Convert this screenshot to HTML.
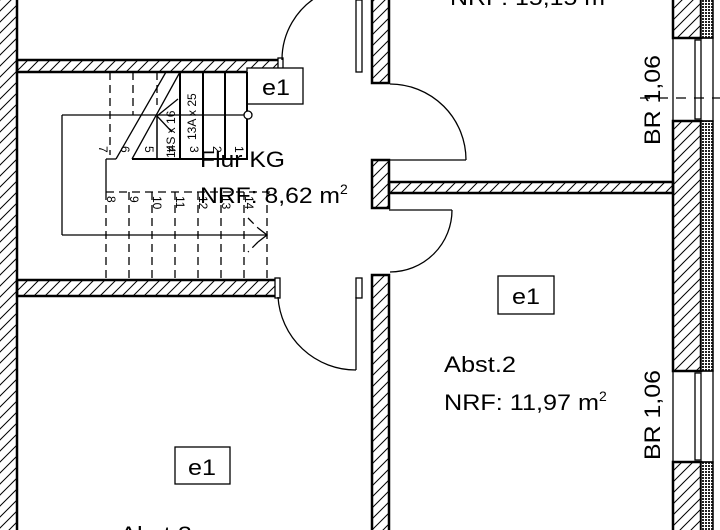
<!DOCTYPE html>
<html><head><meta charset="utf-8"><style>
html,body{margin:0;padding:0;background:#fff;}
svg{display:block;font-family:"Liberation Sans",sans-serif;}
</style></head><body>
<svg width="720" height="530" viewBox="0 0 720 530" xmlns="http://www.w3.org/2000/svg">
<defs>
<pattern id="h" width="11" height="11" patternUnits="userSpaceOnUse">
<path d="M-1,12 L12,-1 M-6,6 L6,-6 M5,17 L17,5" stroke="#000" stroke-width="1"/>
</pattern>
<pattern id="x" width="3" height="3" patternUnits="userSpaceOnUse">
<rect width="3" height="3" fill="#fff"/><rect width="2" height="2" fill="#222"/>
</pattern>
</defs>
<g stroke="#000" stroke-width="2.5" fill="url(#h)">
<rect x="-2" y="-2" width="19" height="540"/>
<rect x="17" y="60" width="263" height="12"/>
<rect x="17" y="280" width="260" height="16"/>
<rect x="372" y="-2" width="17" height="85"/>
<rect x="372" y="160" width="17" height="48"/>
<rect x="389" y="182" width="284" height="11"/>
<rect x="372" y="275" width="17" height="260"/>
<rect x="673" y="-2" width="28" height="40"/>
<rect x="673" y="121" width="28" height="250"/>
<rect x="673" y="462" width="28" height="70"/>
</g>
<g stroke="#000" stroke-width="1.5" fill="url(#x)">
<rect x="701" y="-2" width="12" height="40"/>
<rect x="701" y="121" width="12" height="250"/>
<rect x="701" y="462" width="12" height="70"/>
</g>
<g stroke="#000" stroke-width="1.3" fill="none">
<rect x="673" y="38" width="40" height="83"/>
<rect x="695" y="40" width="6" height="79"/>
<rect x="673" y="371" width="40" height="91"/>
<rect x="695" y="373" width="6" height="87"/>
<line x1="640" y1="98" x2="720" y2="98" stroke-dasharray="10,8"/>
<rect x="278" y="58" width="5" height="14" fill="#fff"/>
<rect x="356" y="0" width="6" height="72" fill="#fff"/>
<rect x="275" y="278" width="5" height="20" fill="#fff"/>
<rect x="356" y="278" width="6" height="20" fill="#fff"/>
<line x1="356" y1="297" x2="356" y2="370"/>
<line x1="389" y1="160" x2="466" y2="160"/>
<line x1="389" y1="210" x2="452" y2="210"/>
<path d="M282,60 A74,74 0 0 1 320,-5"/>
<path d="M390,84 A76,76 0 0 1 466,160"/>
<path d="M452,210 A62,62 0 0 1 390,272"/>
<path d="M278,297 A78,78 0 0 0 356,370"/>
<rect x="247" y="68" width="56" height="36" fill="#fff"/>
<rect x="498" y="276" width="56" height="38"/>
<rect x="175" y="447" width="55" height="37"/>
<line x1="166" y1="72" x2="116" y2="159"/>
<line x1="180" y1="72" x2="132" y2="159"/>
<line x1="106" y1="159" x2="116" y2="159"/>
<line x1="132" y1="159" x2="248" y2="159" stroke-width="2"/>
<line x1="180" y1="72" x2="180" y2="159" stroke-width="2"/>
<line x1="203" y1="72" x2="203" y2="159" stroke-width="2"/>
<line x1="225" y1="72" x2="225" y2="159" stroke-width="2"/>
<line x1="247" y1="72" x2="247" y2="159" stroke-width="2"/>
<line x1="157" y1="116" x2="157" y2="159" stroke-width="1.5"/>
<line x1="157" y1="116" x2="178" y2="99"/>
<line x1="157" y1="116" x2="172" y2="132"/>
<line x1="62" y1="115" x2="244" y2="115"/>
<circle cx="248" cy="115" r="4" fill="#fff"/>
<line x1="62" y1="115" x2="62" y2="235"/>
<line x1="62" y1="235" x2="267" y2="235"/>
<path d="M258,228 L267,235 L258,242"/>
<line x1="106" y1="159" x2="106" y2="192"/>
<g stroke-dasharray="8,5">
<line x1="110" y1="72" x2="110" y2="155"/>
<line x1="133" y1="72" x2="133" y2="115"/>
<line x1="157" y1="72" x2="157" y2="105"/>
<line x1="106" y1="192" x2="270" y2="192"/>
<line x1="106" y1="192" x2="106" y2="279"/>
<line x1="129" y1="192" x2="129" y2="279"/>
<line x1="152" y1="192" x2="152" y2="279"/>
<line x1="175" y1="192" x2="175" y2="279"/>
<line x1="198" y1="192" x2="198" y2="279"/>
<line x1="221" y1="192" x2="221" y2="279"/>
<line x1="244" y1="192" x2="244" y2="279"/>
<line x1="267" y1="192" x2="267" y2="279"/>
<line x1="248" y1="218" x2="258" y2="228"/>
<line x1="258" y1="242" x2="248" y2="252"/>
</g>
</g>
<g font-size="12" fill="#000">
<text transform="translate(99,146) rotate(90)">7</text>
<text transform="translate(121,146) rotate(90)">6</text>
<text transform="translate(145,146) rotate(90)">5</text>
<text transform="translate(167,146) rotate(90)">4</text>
<text transform="translate(190,146) rotate(90)">3</text>
<text transform="translate(213,146) rotate(90)">2</text>
<text transform="translate(235,146) rotate(90)">1</text>
<text transform="translate(107,196) rotate(90)">8</text>
<text transform="translate(130,196) rotate(90)">9</text>
<text transform="translate(153,196) rotate(90)">10</text>
<text transform="translate(176,196) rotate(90)">11</text>
<text transform="translate(199,196) rotate(90)">12</text>
<text transform="translate(222,196) rotate(90)">13</text>
<text transform="translate(245,196) rotate(90)">14</text>
<text transform="translate(175,158) rotate(-90)">14S x 16</text>
<text transform="translate(196,140) rotate(-90)">13A x 25</text>
</g>
<g font-size="22" fill="#000">
<text x="262" y="95" textLength="28" lengthAdjust="spacingAndGlyphs">e1</text>
<text x="512" y="304" textLength="28" lengthAdjust="spacingAndGlyphs">e1</text>
<text x="188" y="475" textLength="28" lengthAdjust="spacingAndGlyphs">e1</text>
<text x="200" y="167" textLength="85" lengthAdjust="spacingAndGlyphs">Flur KG</text>
<text x="200" y="203"><tspan textLength="140" lengthAdjust="spacingAndGlyphs">NRF: 8,62 m</tspan><tspan font-size="14" dy="-9">2</tspan></text>
<text x="444" y="372" textLength="72" lengthAdjust="spacingAndGlyphs">Abst.2</text>
<text x="444" y="410"><tspan textLength="155" lengthAdjust="spacingAndGlyphs">NRF: 11,97 m</tspan><tspan font-size="14" dy="-9">2</tspan></text>
<text x="450" y="5" textLength="155" lengthAdjust="spacingAndGlyphs">NRF: 15,15 m</text>
<text x="120" y="542" textLength="72" lengthAdjust="spacingAndGlyphs">Abst.3</text>
<text transform="translate(660,145) rotate(-90)" textLength="90" lengthAdjust="spacingAndGlyphs">BR 1,06</text>
<text transform="translate(660,460) rotate(-90)" textLength="90" lengthAdjust="spacingAndGlyphs">BR 1,06</text>
</g>
</svg>
</body></html>
